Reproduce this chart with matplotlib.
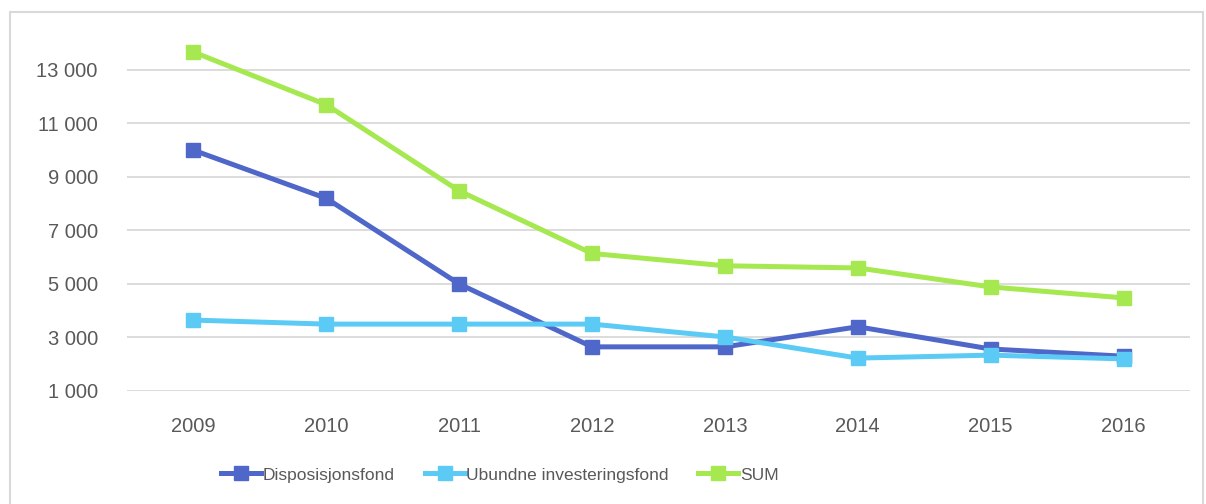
import matplotlib

matplotlib.use("Agg")
import matplotlib.pyplot as plt
from matplotlib.patches import Rectangle

years = ["2009", "2010", "2011", "2012", "2013", "2014", "2015", "2016"]
disposisjonsfond = [10000, 8200, 5000, 2650, 2650, 3400, 2570, 2300]
ubundne = [3650, 3500, 3500, 3500, 3020, 2230, 2340, 2200]
sum_values = [13670, 11700, 8480, 6140, 5680, 5600, 4890, 4480]
y_ticks = [1000, 3000, 5000, 7000, 9000, 11000, 13000]

series = [
    ("Disposisjonsfond", disposisjonsfond, "#4F67C9"),
    ("Ubundne investeringsfond", ubundne, "#5BCBF5"),
    ("SUM", sum_values, "#A5E84F"),
]

plt.rcParams["font.family"] = ["Liberation Sans", "DejaVu Sans"]

fig = plt.figure(figsize=(12.06, 5.04), dpi=100)
ax = fig.add_axes([127 / 1206, 1 - 391 / 504, (1190 - 127) / 1206, (391 - 25) / 504])

x = list(range(len(years)))
for label, values, color in series:
    ax.plot(x, values, color=color, linewidth=3.6, marker="s", markersize=10,
            label=label)

ax.set_xlim(-0.5, len(years) - 0.5)
ax.set_ylim(1000, 14680)
ax.set_xticks(x)
ax.set_xticklabels(years)
ax.set_yticks(y_ticks)
ax.set_yticklabels([f"{v:,}".replace(",", " ") for v in y_ticks])
ax.grid(axis="y", color="#D9D9D9", linewidth=1.3)
ax.set_axisbelow(True)
for side in ["top", "right", "left", "bottom"]:
    ax.spines[side].set_visible(False)
ax.tick_params(length=0, labelsize=14.5, labelcolor="#595959")
ax.tick_params(axis="y", pad=21)
ax.tick_params(axis="x", pad=19)

ax.legend(loc="center", bbox_to_anchor=(500 / 1206, 1 - 475 / 504),
          bbox_transform=fig.transFigure, ncol=3, frameon=False,
          fontsize=12.5, handlelength=2.3, columnspacing=1.7, handletextpad=0.1,
          labelcolor="#595959")

fig.patches.append(Rectangle((10 / 1206, -0.05), (1203 - 10) / 1206, 1.05 - 12 / 504,
                             transform=fig.transFigure, fill=False,
                             edgecolor="#D9D9D9", linewidth=1.5))

fig.savefig("out.png", dpi=100)
